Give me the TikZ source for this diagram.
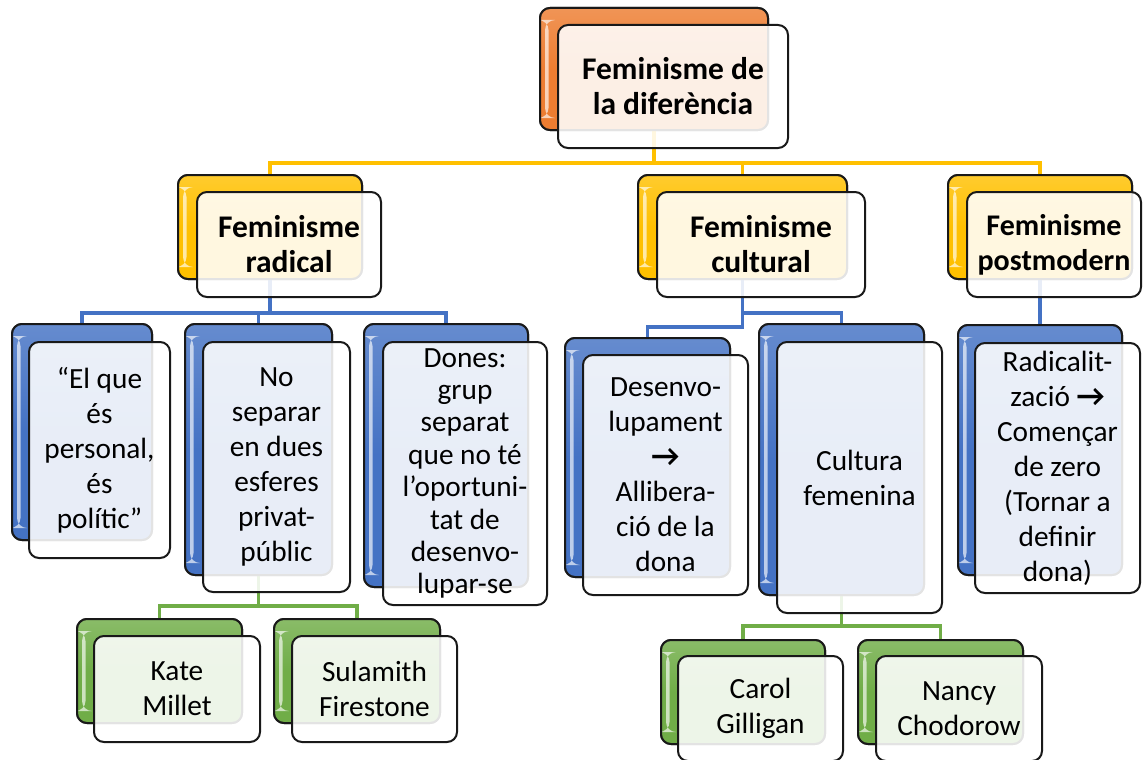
\documentclass[tikz,border=0pt]{standalone}
\usepackage{fontspec}
\setmainfont{Carlito}
\definecolor{corange}{HTML}{ED7D31}
\definecolor{cyellow}{HTML}{FFC000}
\definecolor{cblue}{HTML}{4472C4}
\definecolor{cgreen}{HTML}{70AD47}
\newcommand\arr{{\fontsize{31}{35}\selectfont\bfseries →}}
\tikzset{
  conn/.style={line width=3.2pt},
  backbox/.style={draw=black!90, line width=2pt, rounded corners=10pt,
    top color=#1!82!white, bottom color=#1, middle color=#1, inner sep=0pt,
    path picture={\fill[white,opacity=0.65]
      ([xshift=5pt,yshift=-12pt]path picture bounding box.north west) rectangle
      ([xshift=8.5pt,yshift=12pt]path picture bounding box.south west);}},
  frontbox/.style={draw=black!90, line width=2pt, rounded corners=10pt,
    fill=white, fill opacity=0.88, text opacity=1, inner sep=0pt, align=center,
    font=\fontsize{29.3}{35}\selectfont},
  titlefont/.style={font=\fontsize{31.5}{35}\selectfont\bfseries},
}
\begin{document}
\begin{tikzpicture}[x=1pt,y=-1pt]
\useasboundingbox[fill=white] (0,0) rectangle (1143,760);
% back boxes
\node[backbox=corange, minimum width=228pt, minimum height=122pt] (topB) at (654,69) {};
\node[backbox=cyellow, minimum width=184pt, minimum height=104pt] (radB) at (270,227) {};
\node[backbox=cyellow, minimum width=209pt, minimum height=104pt] (culB) at (742.5,227) {};
\node[backbox=cyellow, minimum width=184pt, minimum height=104pt] (pmB) at (1040,227) {};
\node[backbox=cblue, minimum width=140pt, minimum height=216pt] (elqB) at (82,432) {};
\node[backbox=cblue, minimum width=147pt, minimum height=251pt] (nosB) at (258.5,449.5) {};
\node[backbox=cblue, minimum width=164pt, minimum height=263pt] (donB) at (446,455.5) {};
\node[backbox=cblue, minimum width=165pt, minimum height=239pt] (desB) at (647.5,457.5) {};
\node[backbox=cblue, minimum width=165pt, minimum height=271pt] (cfeB) at (841.5,459.5) {};
\node[backbox=cblue, minimum width=164pt, minimum height=250pt] (zerB) at (1040,450) {};
\node[backbox=cgreen, minimum width=165pt, minimum height=104pt] (katB) at (159.5,671) {};
\node[backbox=cgreen, minimum width=166pt, minimum height=104pt] (sulB) at (357,671) {};
\node[backbox=cgreen, minimum width=164pt, minimum height=104pt] (carB) at (743,692) {};
\node[backbox=cgreen, minimum width=165pt, minimum height=104pt] (nanB) at (940.5,692) {};
% connectors
\draw[conn, cyellow] (topB.south) -- ++(0,32) -| (radB.north);
\draw[conn, cyellow] (topB.south) -- ++(0,32) -| (culB.north);
\draw[conn, cyellow] (topB.south) -- ++(0,32) -| (pmB.north);
\draw[conn, cblue] (radB.south) -- ++(0,33) -| (elqB.north);
\draw[conn, cblue] (radB.south) -- ++(0,33) -| (nosB.north);
\draw[conn, cblue] (radB.south) -- ++(0,33) -| (donB.north);
\draw[conn, cblue] (culB.south) -- ++(0,33) -| (cfeB.north);
\draw[conn, cblue] (culB.south) -- ++(0,47) -| (desB.north);
\draw[conn, cblue] (pmB.south) -- (zerB.north);
\draw[conn, cgreen] (nosB.south) -- ++(0,30) -| (katB.north);
\draw[conn, cgreen] (nosB.south) -- ++(0,30) -| (sulB.north);
\draw[conn, cgreen] (cfeB.south) -- ++(0,30) -| (carB.north);
\draw[conn, cgreen] (cfeB.south) -- ++(0,30) -| (nanB.north);
% redraw back boxes above connectors
\node[backbox=corange, minimum width=228pt, minimum height=122pt] at (topB) {};
\node[backbox=cyellow, minimum width=184pt, minimum height=104pt] at (radB) {};
\node[backbox=cyellow, minimum width=209pt, minimum height=104pt] at (culB) {};
\node[backbox=cyellow, minimum width=184pt, minimum height=104pt] at (pmB) {};
\node[backbox=cblue, minimum width=140pt, minimum height=216pt] at (elqB) {};
\node[backbox=cblue, minimum width=147pt, minimum height=251pt] at (nosB) {};
\node[backbox=cblue, minimum width=164pt, minimum height=263pt] at (donB) {};
\node[backbox=cblue, minimum width=165pt, minimum height=239pt] at (desB) {};
\node[backbox=cblue, minimum width=165pt, minimum height=271pt] at (cfeB) {};
\node[backbox=cblue, minimum width=164pt, minimum height=250pt] at (zerB) {};
\node[backbox=cgreen, minimum width=165pt, minimum height=104pt] at (katB) {};
\node[backbox=cgreen, minimum width=166pt, minimum height=104pt] at (sulB) {};
\node[backbox=cgreen, minimum width=164pt, minimum height=104pt] at (carB) {};
\node[backbox=cgreen, minimum width=165pt, minimum height=104pt] at (nanB) {};
% front boxes with text
\node[frontbox, titlefont, minimum width=230pt, minimum height=123pt] (topF) at (673,86.5) {Feminisme de\\la diferència};
\node[frontbox, titlefont, minimum width=184pt, minimum height=105pt] (radF) at (289,244.5) {Feminisme\\radical};
\node[frontbox, titlefont, minimum width=208pt, minimum height=105pt] (culF) at (761,244.5) {Feminisme\\cultural};
\node[frontbox, font=\fontsize{30}{35}\selectfont\bfseries, minimum width=174pt, minimum height=105pt] (pmF) at (1054,244.5) {Feminisme\\postmodern};
\node[frontbox, minimum width=141pt, minimum height=216pt] (elqF) at (99.5,450) {“El que\\és\\personal,\\és\\polític”};
\node[frontbox, minimum width=147pt, minimum height=250pt] (nosF) at (276.5,467) {No\\separar\\en dues\\esferes\\privat-\\públic};
\node[frontbox, font=\fontsize{29.3}{32.4}\selectfont, minimum width=164pt, minimum height=263pt] (donF) at (465,473.5) {Dones:\\grup\\separat\\que no té\\l’oportuni-\\tat de\\desenvo-\\lupar-se};
\node[frontbox, minimum width=165pt, minimum height=240pt] (desF) at (665.5,475) {Desenvo-\\lupament\\\arr\\Allibera-\\ció de la\\dona};
\node[frontbox, minimum width=165pt, minimum height=271pt] (cfeF) at (859.5,477.5) {Cultura\\femenina};
\node[frontbox, minimum width=165pt, minimum height=250pt] (zerF) at (1057.5,468) {Radicalit-\\zació \arr\\Començar\\de zero\\(Tornar a\\definir\\dona)};
\node[frontbox, minimum width=166pt, minimum height=106pt] (katF) at (177,689) {Kate\\Millet};
\node[frontbox, minimum width=165pt, minimum height=106pt] (sulF) at (374.5,689) {Sulamith\\Firestone};
\node[frontbox, minimum width=165pt, minimum height=105pt] (carF) at (760.5,708.5) {Carol\\Gilligan};
\node[frontbox, minimum width=166pt, minimum height=105pt] (nanF) at (959,708.5) {Nancy\\Chodorow};
\end{tikzpicture}
\end{document}
